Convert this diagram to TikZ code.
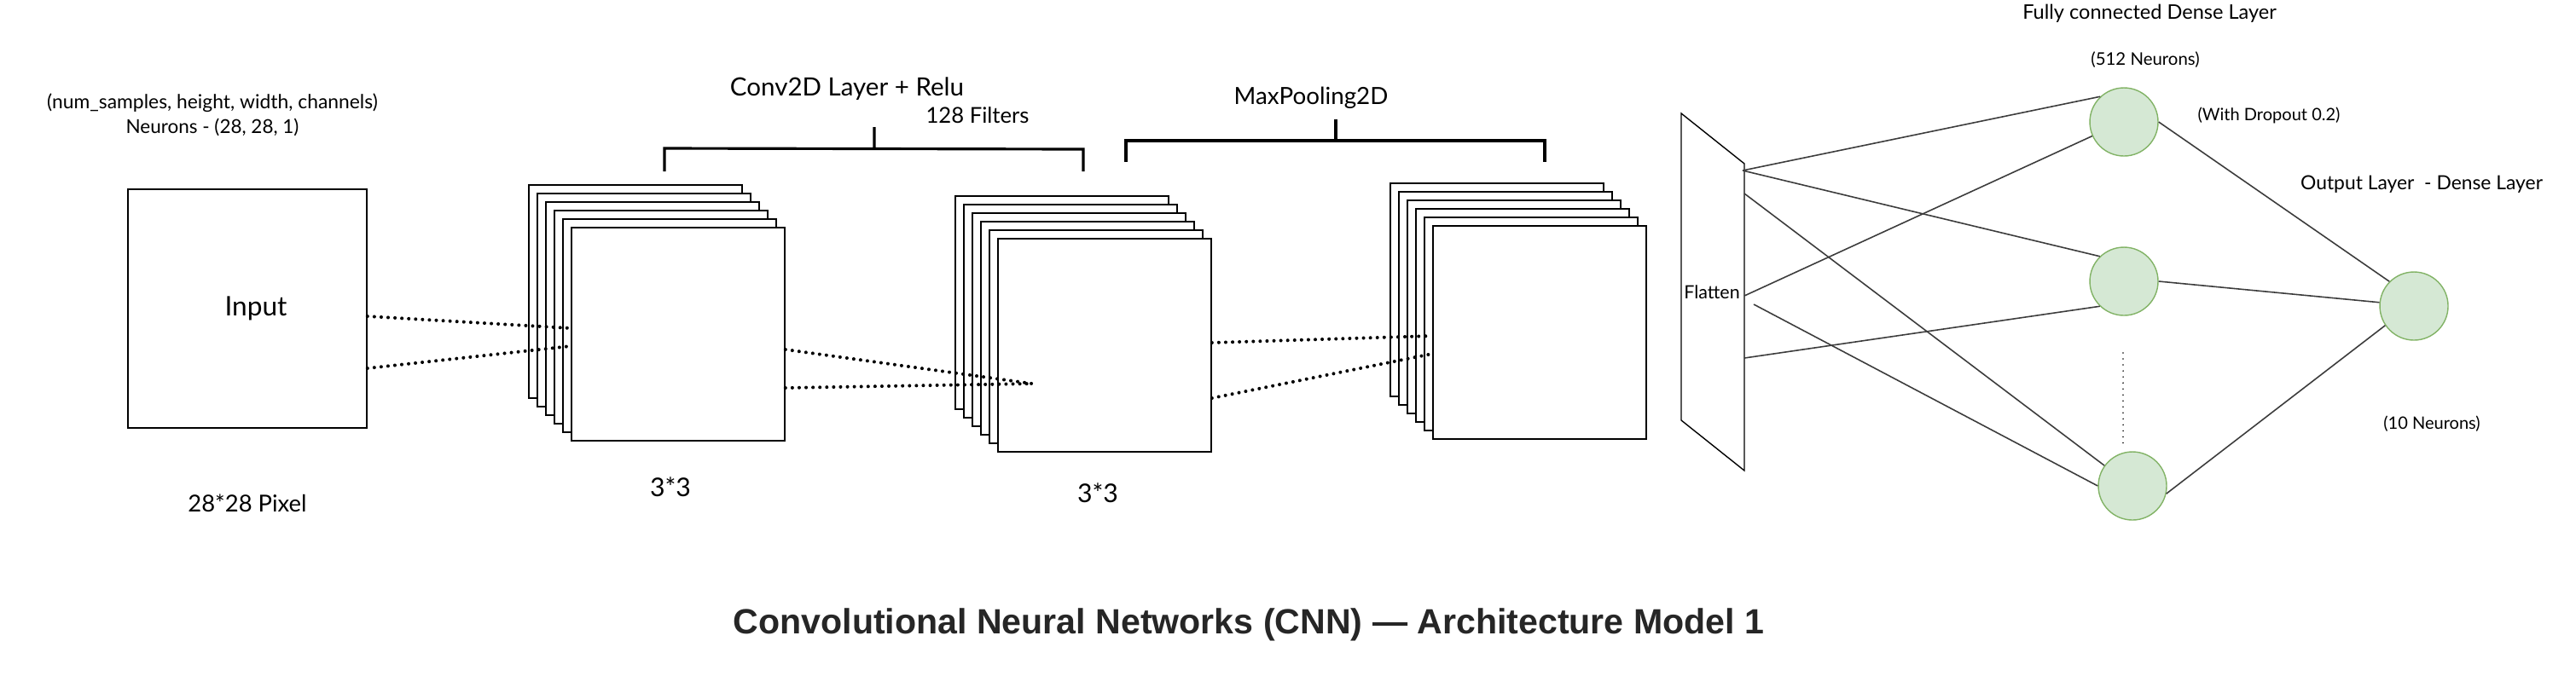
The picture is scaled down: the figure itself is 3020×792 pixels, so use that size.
\documentclass[tikz,border=0pt]{standalone}
\usepackage{fontspec}
\usetikzlibrary{positioning}
\newfontfamily\handfont{Lato}
\newfontfamily\titlefont{Liberation Sans}
\definecolor{nfill}{HTML}{D5E8D4}
\definecolor{nline}{HTML}{82B366}
\definecolor{wirecol}{HTML}{3C3C3C}
\definecolor{titlegray}{HTML}{262626}
\tikzset{
  fmap/.style={draw, fill=white, line width=0.45pt, minimum width=25mm, minimum height=25mm, inner sep=0pt},
  dots/.style={line width=1.15pt, line cap=round, dash pattern=on 0pt off 2.3pt},
  brace/.style={line width=0.9pt},
  neuron/.style={circle, draw=nline, fill=nfill, line width=0.4pt, minimum size=8mm, inner sep=0pt},
  wire/.style={draw=wirecol, line width=0.45pt},
  hand/.style={font=\handfont\fontsize{#1}{#1}\selectfont, inner sep=0pt},
}
\begin{document}
\begin{tikzpicture}[x=0.1mm, y=-0.1mm]
\useasboundingbox (0,0) rectangle (3020,792);

% input image
\node[draw, line width=0.45pt, minimum width=28mm, minimum height=28mm, inner sep=0pt] (inp) at (290,362) {};
\node[hand=9] (inptext) at (300,362) {Input};
\node[hand=6.5] (shape) at (249,121) {(num\_samples, height, width, channels)};
\node[hand=6.4] (neur) at (249,149) {Neurons - (28, 28, 1)};
\node[hand=7.8] (pix) at (290,590) {28*28 Pixel};

% feature map stacks
\foreach \s/\x/\y in {1/745/342, 2/1245/355, 3/1755/340} {
  \foreach \k in {0,...,5} {
    \node[fmap] (s\s\k) at (\x+10*\k, \y+10*\k) {};
  }
}
\node[hand=8.6] (k1) at (786,571) {3*3};
\node[hand=8.6] (k2) at (1287,578) {3*3};

% dotted receptive fields
\coordinate (mid) at (1210,450);
\draw[dots] ([yshift=-0.9mm]inp.east) -- ([yshift=0.7mm]s15.west);
\draw[dots] ([yshift=-7mm]inp.east) -- ([yshift=-1.4mm]s15.west);
\draw[dots] ([yshift=-1.8mm]s15.east) -- (mid);
\draw[dots] ([yshift=-6.3mm]s15.east) -- (mid);
\draw[dots] ([yshift=0.3mm]s25.east) -- ([yshift=-0.4mm]s35.west);
\draw[dots] ([yshift=-6.2mm]s25.east) -- ([yshift=-2.5mm]s35.west);

% brackets
\draw[brace] (779,201) -- (779,174) -- (1270,175) -- (1270,201) (1025,149) -- (1025,175);
\draw[brace] (1320,190) -- (1320,165) -- (1811,165) -- (1811,190) (1566,140) -- (1566,165);
\node[hand=8.4] (conv) at (993,104) {Conv2D Layer + Relu};
\node[hand=7.3] (filt) at (1146,135) {128 Filters};
\node[hand=7.9] (pool) at (1537,115) {MaxPooling2D};

% flatten
\draw[line width=0.4pt] (1971,133) -- (2045,192) -- (2045,552) -- (1971,493) -- cycle;
\node[hand=6.1] (flat) at (2007,343) {Flatten};
\coordinate (f1) at (2043,200);
\coordinate (f2) at (2045,227);
\coordinate (f3) at (2045,347);
\coordinate (f4) at (2056,357);
\coordinate (f5) at (2045,420);

% dense layers
\node[neuron] (n1) at (2490,143) {};
\node[neuron] (n2) at (2490,330) {};
\node[neuron] (n3) at (2500,570) {};
\node[neuron] (out) at (2830,359) {};
\foreach \a/\b in {f1/n1.133, f1/n2.134, f2/n3.144, f3/n1.204, f4/n3.180, f5/n2.226,
                   n1.east/out.135, n2.east/out.174, n3.-13/out.214}
  \draw[wire] (\a) -- (\b);
\draw[dots, line width=0.5pt, dash pattern=on 0pt off 2pt] (2489,414) -- (2489,520);

\node[hand=6.7] (fc) at (2520,16) {Fully connected Dense Layer};
\node[hand=5.8] (n512) at (2515,70) {(512 Neurons)};
\node[hand=5.7] (drop) at (2660,135) {(With Dropout 0.2)};
\node[hand=6.5] (outl) at (2839,216) {Output Layer \ - Dense Layer};
\node[hand=5.7] (n10) at (2851,497) {(10 Neurons)};

\node[font=\titlefont\bfseries\fontsize{11.7}{12}\selectfont, text=titlegray, inner sep=0pt] (title) at (1464,733) {Convolutional Neural Networks (CNN) — Architecture Model 1};
\end{tikzpicture}
\end{document}
